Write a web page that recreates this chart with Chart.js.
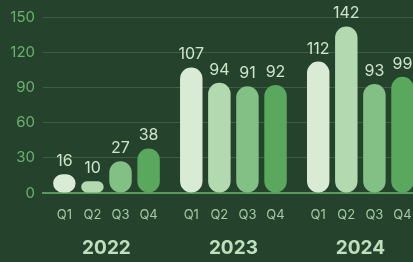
<!DOCTYPE html>
<html lang="en-US">
<head>
  <meta charset="utf-8">
  <title>Quarterly bars by year</title>
  <script src="https://cdn.jsdelivr.net/npm/chart.js@4"></script>
  <style>
  html, body { margin: 0; padding: 0; background: #25432c; overflow: hidden; }
  #holder { position: relative; width: 429px; height: 262px; }
  </style>
</head>
<body>
  <div id="holder"><canvas id="chart"></canvas></div>
  <script>
    var years = ['2022', '2023', '2024'];
    var quarters = ['Q1', 'Q2', 'Q3', 'Q4'];
    var q1 = [16, 107, 112];
    var q2 = [10, 94, 142];
    var q3 = [27, 91, 93];
    var q4 = [38, 92, 99];
    var yTicks = [0, 30, 60, 90, 120, 150];

    var colors = ['#d9ebd5', '#b3d9b1', '#82c086', '#5aa75e'];
    var series = [q1, q2, q3, q4];

    var fontFamily = 'Inter, "Noto Sans", sans-serif';

    // value above each bar, quarter name below it
    var barText = {
      id: 'barText',
      afterDatasetsDraw: function(chart) {
        var ctx = chart.ctx;
        var yScale = chart.scales.y;
        ctx.save();
        ctx.textAlign = 'center';
        chart.data.datasets.forEach(function(ds, i) {
          var meta = chart.getDatasetMeta(i);
          meta.data.forEach(function(bar, j) {
            ctx.fillStyle = '#cfe4cb';
            ctx.font = '16px ' + fontFamily;
            ctx.textBaseline = 'alphabetic';
            ctx.fillText(ds.data[j], bar.x, bar.y - 8);
            ctx.fillStyle = '#a5caa3';
            ctx.font = '13px ' + fontFamily;
            ctx.textBaseline = 'middle';
            ctx.fillText(quarters[i], bar.x, yScale.getPixelForValue(0) + 22);
          });
        });
        ctx.restore();
      }
    };

    var config = {
      type: 'bar',
      data: {
        labels: years,
        datasets: series.map(function(s, i) {
          return {
            label: quarters[i],
            data: s,
            backgroundColor: colors[i],
            borderRadius: 12,
            borderSkipped: false,
            barPercentage: 0.8,
            categoryPercentage: 0.885
          };
        })
      },
      options: {
        responsive: true,
        maintainAspectRatio: false,
        animation: false,
        layout: { padding: { top: 16, left: 0, right: 0, bottom: 2 } },
        plugins: {
          legend: { display: false },
          tooltip: { enabled: false }
        },
        scales: {
          x: {
            grid: { display: false, drawTicks: false },
            border: { display: true, color: '#5a9a5e', width: 2 },
            ticks: {
              padding: 44,
              color: '#bfe0bc',
              font: { family: fontFamily, size: 19, weight: 'bold' }
            },
            afterFit: function(axis) { axis.height = 67; }
          },
          y: {
            min: 0,
            max: 150,
            afterBuildTicks: function(axis) {
              axis.ticks = yTicks.map(function(v) { return { value: v }; });
            },
            grid: { color: '#3d5e42', lineWidth: 1, drawTicks: false },
            border: { display: false },
            ticks: {
              padding: 8,
              color: '#6cb06e',
              font: { family: fontFamily, size: 15 }
            },
            afterFit: function(axis) { axis.width = 43; }
          }
        }
      },
      plugins: [barText]
    };

    new Chart(document.getElementById('chart').getContext('2d'), config);
  </script>
</body>
</html>
